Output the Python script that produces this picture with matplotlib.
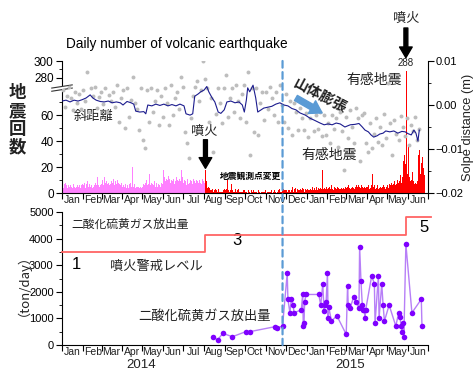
import numpy as np
import pandas as pd
import matplotlib
matplotlib.use('Agg')
import matplotlib.pyplot as plt
import matplotlib.dates as mdates
from matplotlib.patches import ConnectionPatch
from matplotlib.ticker import NullFormatter

plt.rcParams['font.family'] = ['Liberation Sans', 'Noto Sans CJK JP', 'DejaVu Sans']
plt.rcParams['axes.unicode_minus'] = True
JP = ['Noto Sans CJK JP', 'DejaVu Sans']

# ---------------- data ----------------
start_date = '2014-01-01'
end_date = '2015-07-01'

# daily volcanic earthquakes, 2014-01-01 .. 2014-08-02 (before eruption)
pink_counts = [
    5,6,4,7,5,8,6,5,4,6,7,5,6,8,5,4,6,7,5,6,4,5,7,6,5,8,6,4,5,6,7,
    5,6,8,5,4,7,6,9,5,6,7,5,8,6,4,5,7,6,8,5,6,12,7,6,5,9,6,7,
    8,10,6,7,12,8,6,9,7,13,8,6,10,7,9,6,8,11,7,6,9,8,7,10,6,8,7,9,6,8,7,
    5,6,4,5,7,5,4,6,5,4,7,5,8,5,6,20,5,4,7,4,6,5,5,8,5,4,6,5,4,7,
    5,7,5,6,8,5,10,6,5,7,15,5,6,8,5,7,6,9,5,5,8,6,5,7,10,6,5,6,8,7,9,
    18,12,10,9,11,8,10,13,9,11,8,12,10,9,8,11,7,10,9,12,10,10,9,8,11,9,7,18,12,9,
    8,10,7,9,6,8,11,7,9,8,10,6,9,7,8,11,9,13,8,10,7,9,8,6,10,8,9,7,11,8,9,
    8,10,
]
pink_start = '2014-01-01'

# daily volcanic earthquakes, 2014-08-03 .. 2015-06-25 (after eruption)
red_counts = [
    18,9,6,4,5,3,4,2,3,2,3,2,1,2,3,1,2,1,2,3,1,2,1,1,2,1,2,1,3,
    2,1,3,10,4,2,1,3,2,7,3,2,1,2,1,3,2,1,2,1,3,1,2,1,1,2,1,2,1,2,
    1,2,1,0,1,2,1,1,0,2,1,1,2,0,1,1,2,1,0,1,2,1,1,0,1,2,1,1,0,1,2,
    1,0,1,2,1,1,0,1,2,1,0,1,1,2,1,0,1,1,2,1,3,1,2,1,2,1,3,2,1,2,
    2,3,1,2,4,2,1,3,2,5,2,1,3,2,4,1,2,3,2,1,2,3,1,2,4,2,3,1,2,3,2,
    2,3,2,4,2,3,1,2,5,3,2,4,3,2,5,3,2,4,2,3,4,2,3,18,5,3,4,2,3,5,3,
    3,4,2,5,3,4,6,3,4,2,5,3,4,3,5,2,4,3,6,3,4,5,3,4,6,3,5,4,
    4,5,3,6,4,5,3,4,6,5,4,7,3,5,4,6,5,3,6,5,5,4,6,3,5,4,6,5,4,3,5,
    5,4,6,3,5,4,6,8,15,5,4,6,3,5,4,6,5,3,4,6,5,4,3,5,6,4,5,3,6,5,
    6,5,4,7,5,6,8,5,6,7,5,9,6,8,7,10,8,12,9,14,10,8,12,75,25,29,18,22,288,20,15,
    37,20,12,9,8,10,16,8,9,7,6,8,7,6,9,29,12,33,15,10,23,28,12,19,14,
]
red_start = '2014-08-03'

# slope distance raw readings (mm), every 3 days from 2014-01-02
slope_raw_start = '2014-01-02'
slope_raw_mm = [
    3.5,-0.5,2.0,4.0,1.5,-1.2,3.0,0.5,2.5,-0.8,
    3.4,0.8,7.5,-1.6,3.9,2.0,4.2,-0.7,1.8,3.0,
    0.2,3.9,-1.6,2.2,1.0,3.0,-0.5,4.5,-3.9,1.5,
    3.4,-5.2,3.9,-2.7,1.2,6.4,0.5,-1.0,-5.7,3.9,
    -8.0,-9.7,3.4,-3.8,3.9,-1.6,1.0,3.4,-4.5,2.0,
    -2.7,3.9,0.5,-4.5,4.5,-2.3,1.5,3.0,-1.0,6.4,
    4.2,-6.1,-8.6,-12.0,-3.0,2.0,4.2,5.5,1.0,3.5,
    10.0,6.0,3.9,-3.8,1.5,-10.7,-2.0,3.9,0.5,-4.0,
    3.9,6.8,-2.7,1.5,3.9,-1.6,4.5,0.8,-3.0,2.5,
    4.5,-3.8,7.6,-11.4,3.9,-6.1,3.9,-6.8,0.5,3.0,
    -3.4,3.0,-1.0,4.2,1.5,-2.3,3.0,-3.8,4.5,0.0,
    -3.8,2.5,-5.2,1.0,-6.8,0.5,-1.5,-5.7,-0.7,-3.0,
    -5.7,-1.8,-7.2,-3.0,-0.5,-6.0,-2.3,-5.5,-1.5,-7.0,
    -2.3,-6.8,-4.0,-8.6,-2.3,-5.5,-3.0,-9.5,-1.5,-6.0,
    -14.8,-2.7,-7.5,-1.1,-5.0,-8.6,-0.7,-3.0,-12.8,-2.3,
    -1.8,-8.6,-10.7,-4.0,-9.7,-6.5,-3.0,-8.3,-5.0,-9.1,
    -2.0,-7.4,5.0,-4.0,-11.4,-3.4,-6.5,-8.0,-2.5,-5.0,
    -7.0,-3.0,-9.0,-4.5,-6.0,-2.8,-8.0,-5.5,
]

# smoothed slope distance (m): day number since 2014-01-01, value
slope_avg_day = [0,6,12,18,24,30,36,42,46,51,57,63,69,75,81,87,91,97,103,107,
                 110,116,122,125,128,134,140,146,152,158,164,170,176,182,185,191,195,198,203,207,
                 212,216,219,224,228,233,237,242,246,252,258,264,269,272,275,277,280,285,289,292,
                 297,301,307,313,319,325,331,337,343,349,355,363,370,377,385,391,397,403,409,415,
                 422,430,437,443,448,452,457,461,465,470,474,479,483,489,495,501,507,512,516,521,
                 525,528,531,533]
slope_avg = [0.0009,0.0011,0.0007,0.0011,0.0009,0.0012,0.0016,0.0023,0.0016,0.0011,
             0.0008,0.0007,0.0009,0.0005,0.0007,0.0005,0.0000,0.0008,0.0005,0.0002,
             -0.0014,-0.0016,-0.0015,-0.0020,0.0000,-0.0002,0.0002,-0.0001,0.0002,-0.0002,
             0.0001,-0.0002,0.0002,-0.0002,-0.0020,-0.0023,-0.0020,0.0020,0.0025,0.0030,
             0.0034,0.0042,0.0030,0.0016,0.0007,-0.0016,-0.0019,-0.0011,0.0007,0.0009,
             0.0005,0.0007,0.0000,-0.0016,0.0011,0.0039,0.0030,0.0045,0.0016,-0.0016,
             -0.0011,-0.0007,-0.0005,-0.0003,0.0002,0.0005,0.0000,-0.0002,-0.0008,-0.0011,
             -0.0018,-0.0023,-0.0030,-0.0035,-0.0041,-0.0045,-0.0043,-0.0045,-0.0041,-0.0043,
             -0.0050,-0.0045,-0.0044,-0.0042,-0.0050,-0.0057,-0.0061,-0.0068,-0.0073,-0.0070,
             -0.0066,-0.0064,-0.0059,-0.0061,-0.0059,-0.0064,-0.0060,-0.0061,-0.0065,-0.0068,
             -0.0057,-0.0064,-0.0082,-0.0057]

# SO2 emission (ton/day)
so2_dates = ['2014-08-14','2014-08-21','2014-08-29','2014-09-12','2014-10-02','2014-10-08',
             '2014-11-15','2014-11-17','2014-11-26','2014-12-03','2014-12-04','2014-12-07',
             '2014-12-09','2014-12-12','2014-12-13','2014-12-24','2014-12-26','2014-12-27',
             '2014-12-28','2014-12-29','2014-12-31','2015-01-19','2015-01-22','2015-01-25',
             '2015-01-27','2015-01-28','2015-01-30','2015-02-01','2015-02-02','2015-02-03',
             '2015-02-07','2015-02-15','2015-03-01','2015-03-03','2015-03-04','2015-03-07',
             '2015-03-12','2015-03-16','2015-03-20','2015-03-21','2015-03-23','2015-03-25',
             '2015-03-26','2015-03-28','2015-03-29','2015-03-30','2015-04-08','2015-04-12',
             '2015-04-13','2015-04-18','2015-04-19','2015-04-23','2015-04-25','2015-04-27',
             '2015-05-04','2015-05-14','2015-05-18','2015-05-20','2015-05-22','2015-05-23',
             '2015-05-25','2015-05-26','2015-05-29','2015-06-07','2015-06-21','2015-06-22']
so2_values = [310,190,440,310,500,500,
              690,630,710,2700,1720,1210,
              1720,1500,1210,1320,1900,710,
              820,1630,1900,1900,1500,2280,
              1280,1500,1630,2700,1000,1420,
              900,1100,400,2220,1500,1400,
              1800,1610,1400,3700,2400,1500,
              1300,1320,1000,1320,2600,2300,
              820,2600,1000,2300,1500,900,
              1500,710,1190,1060,710,500,
              820,310,3790,1210,1720,710]

# volcanic alert level
alert_dates = ['2014-01-01', '2014-08-03', '2015-05-29', '2015-07-06']
alert_levels = [1, 3, 5, 5]

eruption_dates = ['2014-08-03', '2015-05-29']
network_change_date = '2014-11-26'

# ---------------- figure ----------------
W, H = 477, 372
fig = plt.figure(figsize=(W/100, H/100), dpi=100)
def rect(l, t, r, b):
    return [l/W, 1-b/H, (r-l)/W, (b-t)/H]

ax1 = fig.add_axes(rect(62, 61, 428, 193))
ax2 = fig.add_axes(rect(62, 212, 428, 345))

# broken left axis: 0-80 linear, 80-267 collapsed, 267-300 compressed
def fwd(v):
    v = np.asarray(v, float)
    return np.where(v <= 80, v, np.where(v < 267, 80 + (v-80)*0.001, 80.187 + (v-267)*0.65))
def inv(u):
    u = np.asarray(u, float)
    return np.where(u <= 80, u, np.where(u < 80.187, 80 + (u-80)/0.001, 267 + (u-80.187)/0.65))
ax1.set_yscale('function', functions=(fwd, inv))

D = mdates.date2num
pink_d = D(pd.date_range(pink_start, periods=len(pink_counts), freq='D'))
red_d = D(pd.date_range(red_start, periods=len(red_counts), freq='D'))
ax1.bar(pink_d, pink_counts, width=1.0, align='edge', color='#ff80ff', linewidth=0)
ax1.bar(red_d, red_counts, width=1.0, align='edge', color='#ff0000', linewidth=0)
ax1.set_ylim(0, 300)

x0, x1 = D(pd.Timestamp(start_date)), D(pd.Timestamp(end_date))
for ax in (ax1, ax2):
    ax.xaxis_date()
    ax.set_xlim(x0, x1)
    ax.xaxis.set_major_locator(mdates.MonthLocator())
    ax.xaxis.set_major_formatter(NullFormatter())
    ax.xaxis.set_minor_locator(mdates.MonthLocator(bymonthday=16))
    ax.xaxis.set_minor_formatter(mdates.DateFormatter('%b'))
    ax.tick_params(axis='x', which='major', length=4, direction='out', width=0.8)
    ax.tick_params(axis='x', which='minor', length=0, labelsize=7.5, pad=1.5, colors='#222222')
    ax.spines['top'].set_visible(False)
    for s in ax.spines.values():
        s.set_linewidth(0.8)

ax1.set_yticks([0, 20, 40, 60, 280, 300])
ax1.set_yticklabels(['0', '20', '40', '60', '280', '300'])
ax1.set_yticks([10, 30, 50, 70, 290], minor=True)
ax1.yaxis.set_minor_formatter(NullFormatter())
ax1.tick_params(axis='y', which='major', length=4, labelsize=8.5, pad=2)
ax1.tick_params(axis='y', which='minor', length=2.5)
ax1.spines['right'].set_visible(False)

# axis break marker
for dy in (-0.012, 0.012):
    ax1.plot([-0.028, 0.028], [0.795+dy-0.012, 0.795+dy+0.012], transform=ax1.transAxes,
             color='#333333', lw=0.8, clip_on=False, zorder=6)
ax1.add_patch(plt.Rectangle((-0.006, 0.782), 0.012, 0.026, transform=ax1.transAxes,
                            facecolor='white', edgecolor='none', clip_on=False, zorder=5))

# slope distance on right axis
ax1r = ax1.twinx()
raw_d = D(pd.date_range(slope_raw_start, periods=len(slope_raw_mm), freq='3D'))
ax1r.scatter(raw_d, np.array(slope_raw_mm)/1000.0, s=8, color='#bdbdbd', linewidths=0, zorder=2)
avg_d = D(pd.Timestamp(start_date) + pd.to_timedelta(slope_avg_day, unit='D'))
ax1r.plot(avg_d, slope_avg, color='#1c1c8e', lw=0.8, zorder=3)
ax1r.set_ylim(-0.02, 0.01)
ax1r.set_yticks([-0.02, -0.01, 0.0, 0.01])
ax1r.set_yticklabels(['\u22120.02', '\u22120.01', '0.00', '0.01'])
ax1r.set_yticks([-0.015, -0.005, 0.005], minor=True)
ax1r.tick_params(axis='y', which='major', length=4, labelsize=8, pad=1.5)
ax1r.tick_params(axis='y', which='minor', length=2.5)
for s in ('top', 'left', 'bottom'):
    ax1r.spines[s].set_visible(False)
ax1r.spines['right'].set_linewidth(0.8)
ax1r.set_xlim(x0, x1)

# bottom panel: SO2
so2_d = D(pd.to_datetime(so2_dates))
ax2.plot(so2_d, so2_values, color='#b77ff7', lw=1.0, zorder=3)
ax2.plot(so2_d, so2_values, linestyle='none', marker='o', ms=4, mfc='#7f00ff', mec='none', zorder=4)
ax2.set_ylim(0, 5000)
ax2.set_yticks(range(0, 5001, 1000))
ax2.set_yticks(range(500, 5000, 1000), minor=True)
ax2.tick_params(axis='y', which='major', length=4, labelsize=8, pad=2)
ax2.tick_params(axis='y', which='minor', length=2.5)
ax2.spines['right'].set_visible(False)

# alert level (hidden twin axis)
ax2a = ax2.twinx()
ax2a.set_ylim(-9.77, 5.615)
ax2a.set_xlim(x0, x1)
ax2a.plot(D(pd.to_datetime(alert_dates)), alert_levels, drawstyle='steps-post',
          color='#ff6464', lw=1.3, clip_on=False)
ax2a.axis('off')

# dashed line for observation-network change
dn = D(pd.Timestamp(network_change_date))
con = ConnectionPatch(xyA=(dn, 1.0), coordsA=ax1.get_xaxis_transform(),
                      xyB=(dn, 0.0), coordsB=ax2.get_xaxis_transform(),
                      color='#5b9bd5', lw=1.6, linestyle=(0, (3, 2)), zorder=10)
fig.add_artist(con)

# ---------------- annotations ----------------
TXT = '#222222'
ax1.text(0.011, 1.129, 'Daily number of volcanic earthquake', transform=ax1.transAxes,
         ha='left', va='center', fontsize=9.8, color='black')
ax1.text(0.086, 0.58, '斜距離', transform=ax1.transAxes, ha='center', va='center',
         fontsize=9.5, family=JP, color=TXT, zorder=7)
ax1.text(0.389, 0.47, '噴火', transform=ax1.transAxes, ha='center', va='center',
         fontsize=9.5, family=JP, color=TXT)
ax1.text(0.514, 0.129, '地震観測点変更', transform=ax1.transAxes, ha='center', va='center',
         fontsize=6.3, family=JP, color='black', fontweight='bold')
ax1.text(0.852, 0.856, '有感地震', transform=ax1.transAxes, ha='center', va='center',
         fontsize=10, family=JP, color=TXT)
ax1.text(0.731, 0.288, '有感地震', transform=ax1.transAxes, ha='center', va='center',
         fontsize=10, family=JP, color=TXT)
ax1.text(0.705, 0.74, '山体膨張', transform=ax1.transAxes, ha='center', va='center',
         fontsize=10.5, family=JP, color=TXT, fontweight='bold', rotation=-28)

e1, e2 = D(pd.Timestamp(eruption_dates[0])), D(pd.Timestamp(eruption_dates[1]))
arrow_style = 'simple,head_length=0.55,head_width=0.65,tail_width=0.2'
ax1.annotate('', xy=(e1, 19), xytext=(e1, 41),
             arrowprops=dict(arrowstyle=arrow_style, color='black', mutation_scale=14,
                             shrinkA=0, shrinkB=0))
xt = ax1.get_xaxis_transform()
ax1.annotate('', xy=(e2, 1.025), xycoords=xt, xytext=(e2, 1.25), textcoords=xt,
             arrowprops=dict(arrowstyle=arrow_style, color='black', mutation_scale=14,
                             shrinkA=0, shrinkB=0), annotation_clip=False)
ax1.text(e2, 1.322, '噴火', transform=xt, ha='center', va='center', fontsize=9.5,
         family=JP, color=TXT)
ax1.text(e2, 0.987, str(max(red_counts)), transform=xt, ha='center', va='center',
         fontsize=7, color=TXT)

ax1r.annotate('', xy=(D(pd.Timestamp('2015-01-24')), -0.0018),
              xytext=(D(pd.Timestamp('2014-12-16')), 0.0016),
              arrowprops=dict(arrowstyle='simple,head_length=0.6,head_width=0.75,tail_width=0.3',
                              color='#5b9bd5', mutation_scale=14, shrinkA=0, shrinkB=0))

ax2.text(0.186, 0.91, '二酸化硫黄ガス放出量', transform=ax2.transAxes, ha='center', va='center',
         fontsize=8.5, family=JP, color=TXT)
ax2.text(0.038, 0.609, '1', transform=ax2.transAxes, ha='center', va='center', fontsize=12, color='black')
ax2.text(0.257, 0.59, '噴火警戒レベル', transform=ax2.transAxes, ha='center', va='center',
         fontsize=9.5, family=JP, color=TXT)
ax2.text(0.478, 0.782, '3', transform=ax2.transAxes, ha='center', va='center', fontsize=12, color='black')
ax2.text(0.989, 0.88, '5', transform=ax2.transAxes, ha='center', va='center', fontsize=12, color='black')
ax2.text(0.388, 0.218, '二酸化硫黄ガス放出量', transform=ax2.transAxes, ha='center', va='center',
         fontsize=9.5, family=JP, color=TXT)
ax2.text(0.216, -0.148, '2014', transform=ax2.transAxes, ha='center', va='center', fontsize=9.5, color=TXT)
ax2.text(0.787, -0.148, '2015', transform=ax2.transAxes, ha='center', va='center', fontsize=9.5, color=TXT)

fig.text(17/W, 1-120/H, '地\n震\n回\n数', ha='center', va='center', fontsize=12.5,
         fontweight='bold', family=JP, linespacing=1.0, color=TXT)
fig.text(17/W, 1-278/H, '（ton/day）', ha='center', va='center', fontsize=9.5,
         family=JP, rotation=90, color=TXT)
fig.text(468/W, 1-127/H, 'Solpe distance (m)', ha='center', va='center', fontsize=9.3,
         rotation=90, color=TXT)

fig.savefig('out.png', dpi=100)
